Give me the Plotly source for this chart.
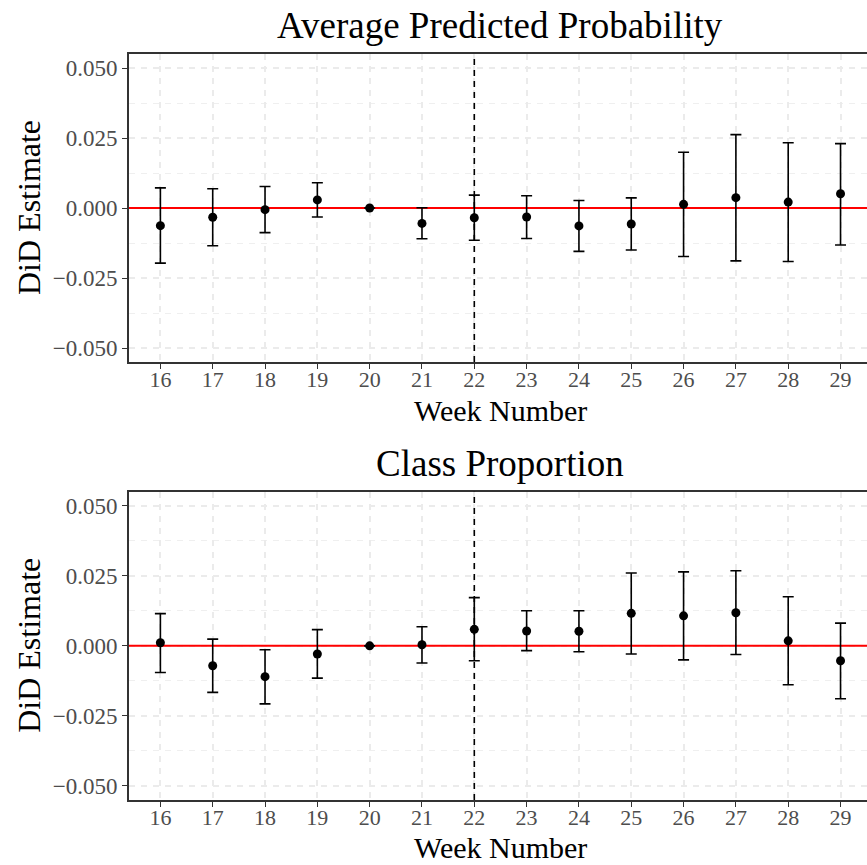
import numpy as np
import plotly.graph_objects as go

weeks = [16, 17, 18, 19, 20, 21, 22, 23, 24, 25, 26, 27, 28, 29]

app_est = [-0.0063, -0.0033, -0.0006, 0.0029, 0.0, -0.0055, -0.0035, -0.0032, -0.0064, -0.0057, 0.0013, 0.0037, 0.0021, 0.0051]
app_lo = [-0.0197, -0.0135, -0.0088, -0.0032, 0.0, -0.0110, -0.0115, -0.0109, -0.0155, -0.0150, -0.0173, -0.0189, -0.0191, -0.0132]
app_hi = [0.0072, 0.0069, 0.0077, 0.0090, 0.0, 0.0001, 0.0046, 0.0044, 0.0027, 0.0036, 0.0199, 0.0262, 0.0233, 0.0230]

cp_est = [0.0011, -0.0071, -0.0110, -0.0029, 0.0, 0.0004, 0.0059, 0.0053, 0.0052, 0.0116, 0.0107, 0.0118, 0.0018, -0.0053]
cp_lo = [-0.0095, -0.0166, -0.0207, -0.0115, 0.0, -0.0061, -0.0053, -0.0017, -0.0021, -0.0029, -0.0050, -0.0031, -0.0139, -0.0189]
cp_hi = [0.0115, 0.0024, -0.0014, 0.0058, 0.0, 0.0068, 0.0172, 0.0125, 0.0125, 0.0260, 0.0264, 0.0268, 0.0175, 0.0081]

titles = ["Average Predicted Probability", "Class Proportion"]
x_title = "Week Number"
y_title = "DiD Estimate"
ref_week = 22

FONT = "Liberation Serif"
H = 865.0

def py(px):
    return (H - px) / H

fig = go.Figure()

panels = [
    (app_est, app_lo, app_hi, "x", "y"),
    (cp_est, cp_lo, cp_hi, "x2", "y2"),
]

# horizontal zero reference lines (drawn as traces so they sit above the grid)
for xa, ya in [("x", "y"), ("x2", "y2")]:
    fig.add_trace(go.Scatter(x=[15.4, 29.506], y=[0, 0], mode="lines", xaxis=xa, yaxis=ya,
                             line=dict(color="red", width=2), hoverinfo="skip", showlegend=False))

for est, lo, hi, xa, ya in panels:
    est = np.array(est); lo = np.array(lo); hi = np.array(hi)
    up = (hi - est).tolist()
    dn = (est - lo).tolist()
    fig.add_trace(go.Scatter(
        x=weeks, y=est, mode="markers", xaxis=xa, yaxis=ya,
        marker=dict(color="black", size=9),
        error_y=dict(type="data", symmetric=False, array=up, arrayminus=dn,
                     color="black", thickness=1.6, width=5.5),
        showlegend=False, cliponaxis=False,
    ))

domains = [[py(362), py(54)], [py(800), py(491.7)]]

axis_common_x = dict(
    range=[15.4, 29.506], tickmode="array", tickvals=weeks, ticktext=[str(w) for w in weeks],
    showline=True, linecolor="#333333", linewidth=1.6, mirror=True,
    ticks="outside", ticklen=5, tickwidth=1.3, tickcolor="#333333",
    showgrid=True, gridcolor="#EBEBEB", gridwidth=1.8, griddash="6px,6px",
    zeroline=False, tickfont=dict(family=FONT, size=22, color="#4D4D4D"),
    ticklabelstandoff=-8,
)
axis_common_y = dict(
    range=[-0.055, 0.055], tickmode="array", tickvals=[-0.05, -0.025, 0, 0.025, 0.05],
    tickformat=".3f",
    showline=True, linecolor="#333333", linewidth=1.6, mirror=False,
    ticks="outside", ticklen=5, tickwidth=1.3, tickcolor="#333333",
    showgrid=True, gridcolor="#EBEBEB", gridwidth=1.8, griddash="6px,6px",
    minor=dict(tickmode="array", tickvals=[-0.0375, -0.0125, 0.0125, 0.0375],
               showgrid=True, gridcolor="#EFEFEF", gridwidth=1.2, ticks=""),
    zeroline=False, tickfont=dict(family=FONT, size=23, color="#4D4D4D"),
)

fig.update_layout(
    width=867, height=865,
    margin=dict(l=129, r=0, t=0, b=0),
    paper_bgcolor="white", plot_bgcolor="white",
    xaxis=dict(domain=[0, 1], anchor="y", **axis_common_x),
    yaxis=dict(domain=domains[0], anchor="x", **axis_common_y),
    xaxis2=dict(domain=[0, 1], anchor="y2", **axis_common_x),
    yaxis2=dict(domain=domains[1], anchor="x2", **axis_common_y),
)

shapes = []
for xr, yr in [("x", "y"), ("x2", "y2")]:
    shapes.append(dict(type="line", xref=xr, yref=f"{yr} domain", x0=ref_week, x1=ref_week, y0=0, y1=1,
                       line=dict(color="black", width=1.6, dash="6px,5px"), layer="above"))
fig.update_layout(shapes=shapes)

annotations = []
centre_x = (500 - 129) / (867 - 129)
for title, tpx, wpx, ymid in [(titles[0], 26, 410, 208), (titles[1], 464, 847, 645.8)]:
    annotations.append(dict(text=title, xref="paper", yref="paper", x=centre_x, y=py(tpx),
                            xanchor="center", yanchor="middle", showarrow=False,
                            font=dict(family=FONT, size=37, color="black")))
    annotations.append(dict(text=x_title, xref="paper", yref="paper", x=centre_x, y=py(wpx),
                            xanchor="center", yanchor="middle", showarrow=False,
                            font=dict(family=FONT, size=30, color="black")))
    annotations.append(dict(text=y_title, xref="paper", yref="paper", x=(29 - 129) / (867 - 129), y=py(ymid),
                            xanchor="center", yanchor="middle", showarrow=False, textangle=-90,
                            font=dict(family=FONT, size=32, color="black")))
fig.update_layout(annotations=annotations)

fig.write_html("out.html")
